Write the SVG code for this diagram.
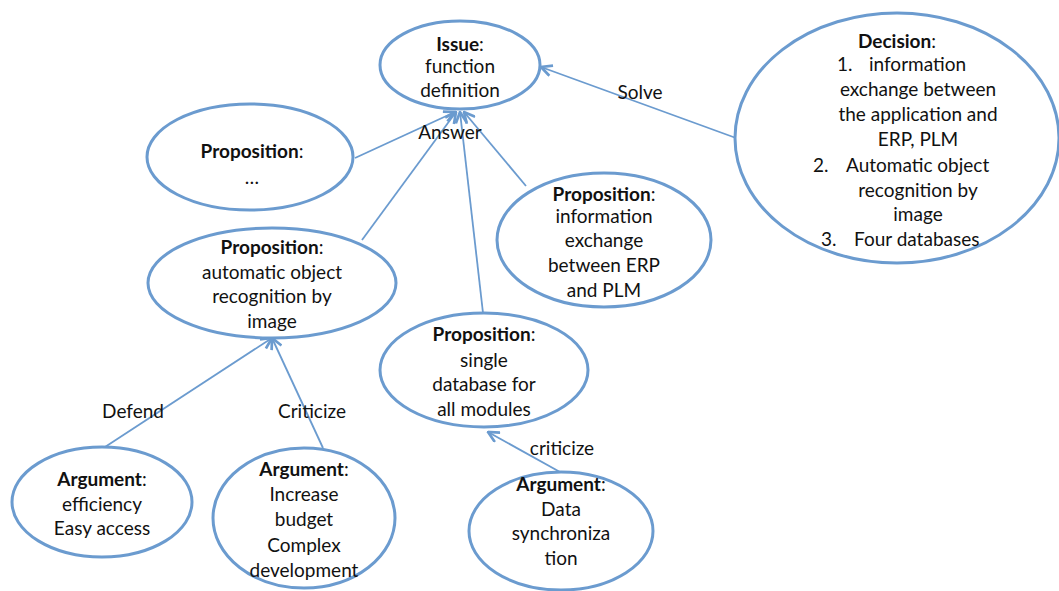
<svg xmlns="http://www.w3.org/2000/svg" width="1059" height="591" viewBox="0 0 1059 591">
<style>
.n{fill:#fff;stroke:#6b9bcf;stroke-width:3}
.c{stroke:#6b9bcf;stroke-width:1.8;fill:none}
text{font-family:Lato,"Open Sans","Liberation Sans",sans-serif;font-size:19px;fill:#111;text-anchor:middle}
.b{font-weight:bold}
.s{text-anchor:start}
</style>
<defs>
<marker id="ah" viewBox="0 0 12 12" refX="11" refY="6" markerWidth="13" markerHeight="13" markerUnits="userSpaceOnUse" orient="auto">
<path d="M1,1 L11,6 L1,11" fill="none" stroke="#6b9bcf" stroke-width="2.5"/>
</marker>
</defs>
<rect width="1059" height="591" fill="#fff"/>
<g id="connectors">
<line class="c" x1="355" y1="158" x2="455" y2="112" marker-end="url(#ah)"/>
<line class="c" x1="362" y1="240" x2="456" y2="112" marker-end="url(#ah)"/>
<line class="c" x1="483" y1="313" x2="460" y2="112" marker-end="url(#ah)"/>
<line class="c" x1="526" y1="186" x2="464" y2="112" marker-end="url(#ah)"/>
<line class="c" x1="736" y1="138" x2="541" y2="67" marker-end="url(#ah)"/>
<line class="c" x1="105" y1="447" x2="272" y2="338" marker-end="url(#ah)"/>
<line class="c" x1="323" y1="448" x2="272" y2="338" marker-end="url(#ah)"/>
<line class="c" x1="560" y1="472" x2="488" y2="432" marker-end="url(#ah)"/>
<text x="450" y="139">Answer</text>
<text x="640" y="99">Solve</text>
<text x="133" y="418">Defend</text>
<text x="312" y="418">Criticize</text>
<text x="562" y="455">criticize</text>
</g>
<g id="issue">
<ellipse class="n" cx="460" cy="65" rx="80" ry="44"/>
<text x="460" y="51"><tspan class="b">Issue</tspan>:</text>
<text x="460" y="73">function</text>
<text x="460" y="97">definition</text>
</g>
<g id="prop-dots">
<ellipse class="n" cx="250" cy="157" rx="103" ry="53"/>
<text x="252" y="158"><tspan class="b">Proposition</tspan>:</text>
<text x="252" y="184">…</text>
</g>
<g id="prop-auto">
<ellipse class="n" cx="272" cy="283" rx="124" ry="55"/>
<text x="272" y="254"><tspan class="b">Proposition</tspan>:</text>
<text x="272" y="279">automatic object</text>
<text x="272" y="303">recognition by</text>
<text x="272" y="328">image</text>
</g>
<g id="prop-info">
<ellipse class="n" cx="604" cy="240" rx="107" ry="67"/>
<text x="604" y="201"><tspan class="b">Proposition</tspan>:</text>
<text x="604" y="223">information</text>
<text x="604" y="247">exchange</text>
<text x="604" y="272">between ERP</text>
<text x="604" y="297">and PLM</text>
</g>
<g id="prop-single">
<ellipse class="n" cx="484" cy="370" rx="104" ry="57"/>
<text x="484" y="341"><tspan class="b">Proposition</tspan>:</text>
<text x="484" y="367">single</text>
<text x="484" y="391">database for</text>
<text x="484" y="416">all modules</text>
</g>
<g id="decision">
<ellipse class="n" cx="897" cy="138" rx="162" ry="125"/>
<text x="897" y="48"><tspan class="b">Decision</tspan>:</text>
<text class="s" x="837" y="71">1.</text>
<text class="s" x="869" y="71">information</text>
<text x="918" y="96">exchange between</text>
<text x="918" y="121">the application and</text>
<text x="918" y="146">ERP, PLM</text>
<text class="s" x="813" y="172">2.</text>
<text class="s" x="846" y="172">Automatic object</text>
<text x="918" y="197">recognition by</text>
<text x="918" y="221">image</text>
<text class="s" x="821" y="246">3.</text>
<text class="s" x="854" y="246">Four databases</text>
</g>
<g id="arg-efficiency">
<ellipse class="n" cx="102" cy="502" rx="90" ry="55"/>
<text x="102" y="486"><tspan class="b">Argument</tspan>:</text>
<text x="102" y="511">efficiency</text>
<text x="102" y="535">Easy access</text>
</g>
<g id="arg-budget">
<ellipse class="n" cx="304" cy="518" rx="91" ry="70"/>
<text x="304" y="476"><tspan class="b">Argument</tspan>:</text>
<text x="304" y="501">Increase</text>
<text x="304" y="526">budget</text>
<text x="304" y="552">Complex</text>
<text x="304" y="577">development</text>
</g>
<g id="arg-sync">
<ellipse class="n" cx="561" cy="531" rx="92" ry="59"/>
<text x="561" y="491"><tspan class="b">Argument</tspan>:</text>
<text x="561" y="516">Data</text>
<text x="561" y="540">synchroniza</text>
<text x="561" y="565">tion</text>
</g>
</svg>
